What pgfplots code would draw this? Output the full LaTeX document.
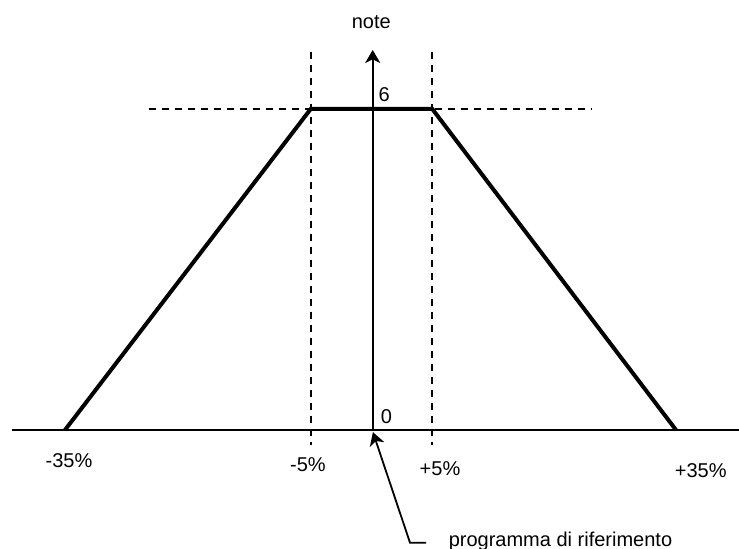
\documentclass[border=0pt]{standalone}
\usepackage{fontspec}
\setmainfont{Liberation Sans}
\usepackage{pgfplots}
\pgfplotsset{compat=1.18}
\usetikzlibrary{arrows.meta}

% x in pixel columns of the sketch, y in "note" units (6 = top plateau)
\pgfplotstableread{
x      y
65     0
310.7  6
432.3  6
676    0
}\trapezio

\begin{document}
\begin{tikzpicture}
\begin{axis}[
  name=ax,
  scale only axis,
  width=369.5pt, height=274.5pt,
  xmin=0, xmax=739,
  ymin=-2.224, ymax=8.037,
  hide axis,
  clip=false,
  every node/.style={inner sep=0pt, font=\fontsize{10.2}{12}\selectfont},
]
% dashed guides
\addplot[black, line width=1pt, dash pattern=on 3.5pt off 3pt] coordinates {(149,6) (592,6)};
\addplot[black, line width=1pt, dash pattern=on 3.5pt off 3pt] coordinates {(310.7,7.065) (310.7,-0.28)};
\addplot[black, line width=1pt, dash pattern=on 3.5pt off 3pt] coordinates {(432.3,7.065) (432.3,-0.28)};
% axes
\addplot[black, line width=0.9pt] coordinates {(11.7,0) (739,0)};
\addplot[black, line width=0.9pt, -{Stealth[length=6.5pt,width=7.5pt,inset=1.8pt]}] coordinates {(372.7,0) (372.7,7.103)};
% trapezoid
\addplot[black, line width=2pt, line join=miter] table[x=x,y=y] {\trapezio};
% annotation arrow
\addplot[black, line width=0.9pt, {Stealth[length=6.5pt,width=7.5pt,inset=1.8pt]}-] coordinates {(372.9,-0.04) (410,-2.107) (426,-2.107)};

\node[anchor=base] at (axis cs:371.3,7.505) {note};
\node[anchor=base] at (axis cs:384.3,6.144) {6};
\node[anchor=base] at (axis cs:386.5,0.121) {0};
\node[anchor=base] at (axis cs:69,-0.692) {-35\%};
\node[anchor=base] at (axis cs:308,-0.785) {-5\%};
\node[anchor=base] at (axis cs:440,-0.847) {+5\%};
\node[anchor=base] at (axis cs:700.7,-0.885) {+35\%};
\node[anchor=base west] at (axis cs:441.7,-2.181) {programma di riferimento};
\end{axis}
\pgfresetboundingbox
\useasboundingbox (ax.south west) rectangle (ax.north east);
\end{tikzpicture}
\end{document}
